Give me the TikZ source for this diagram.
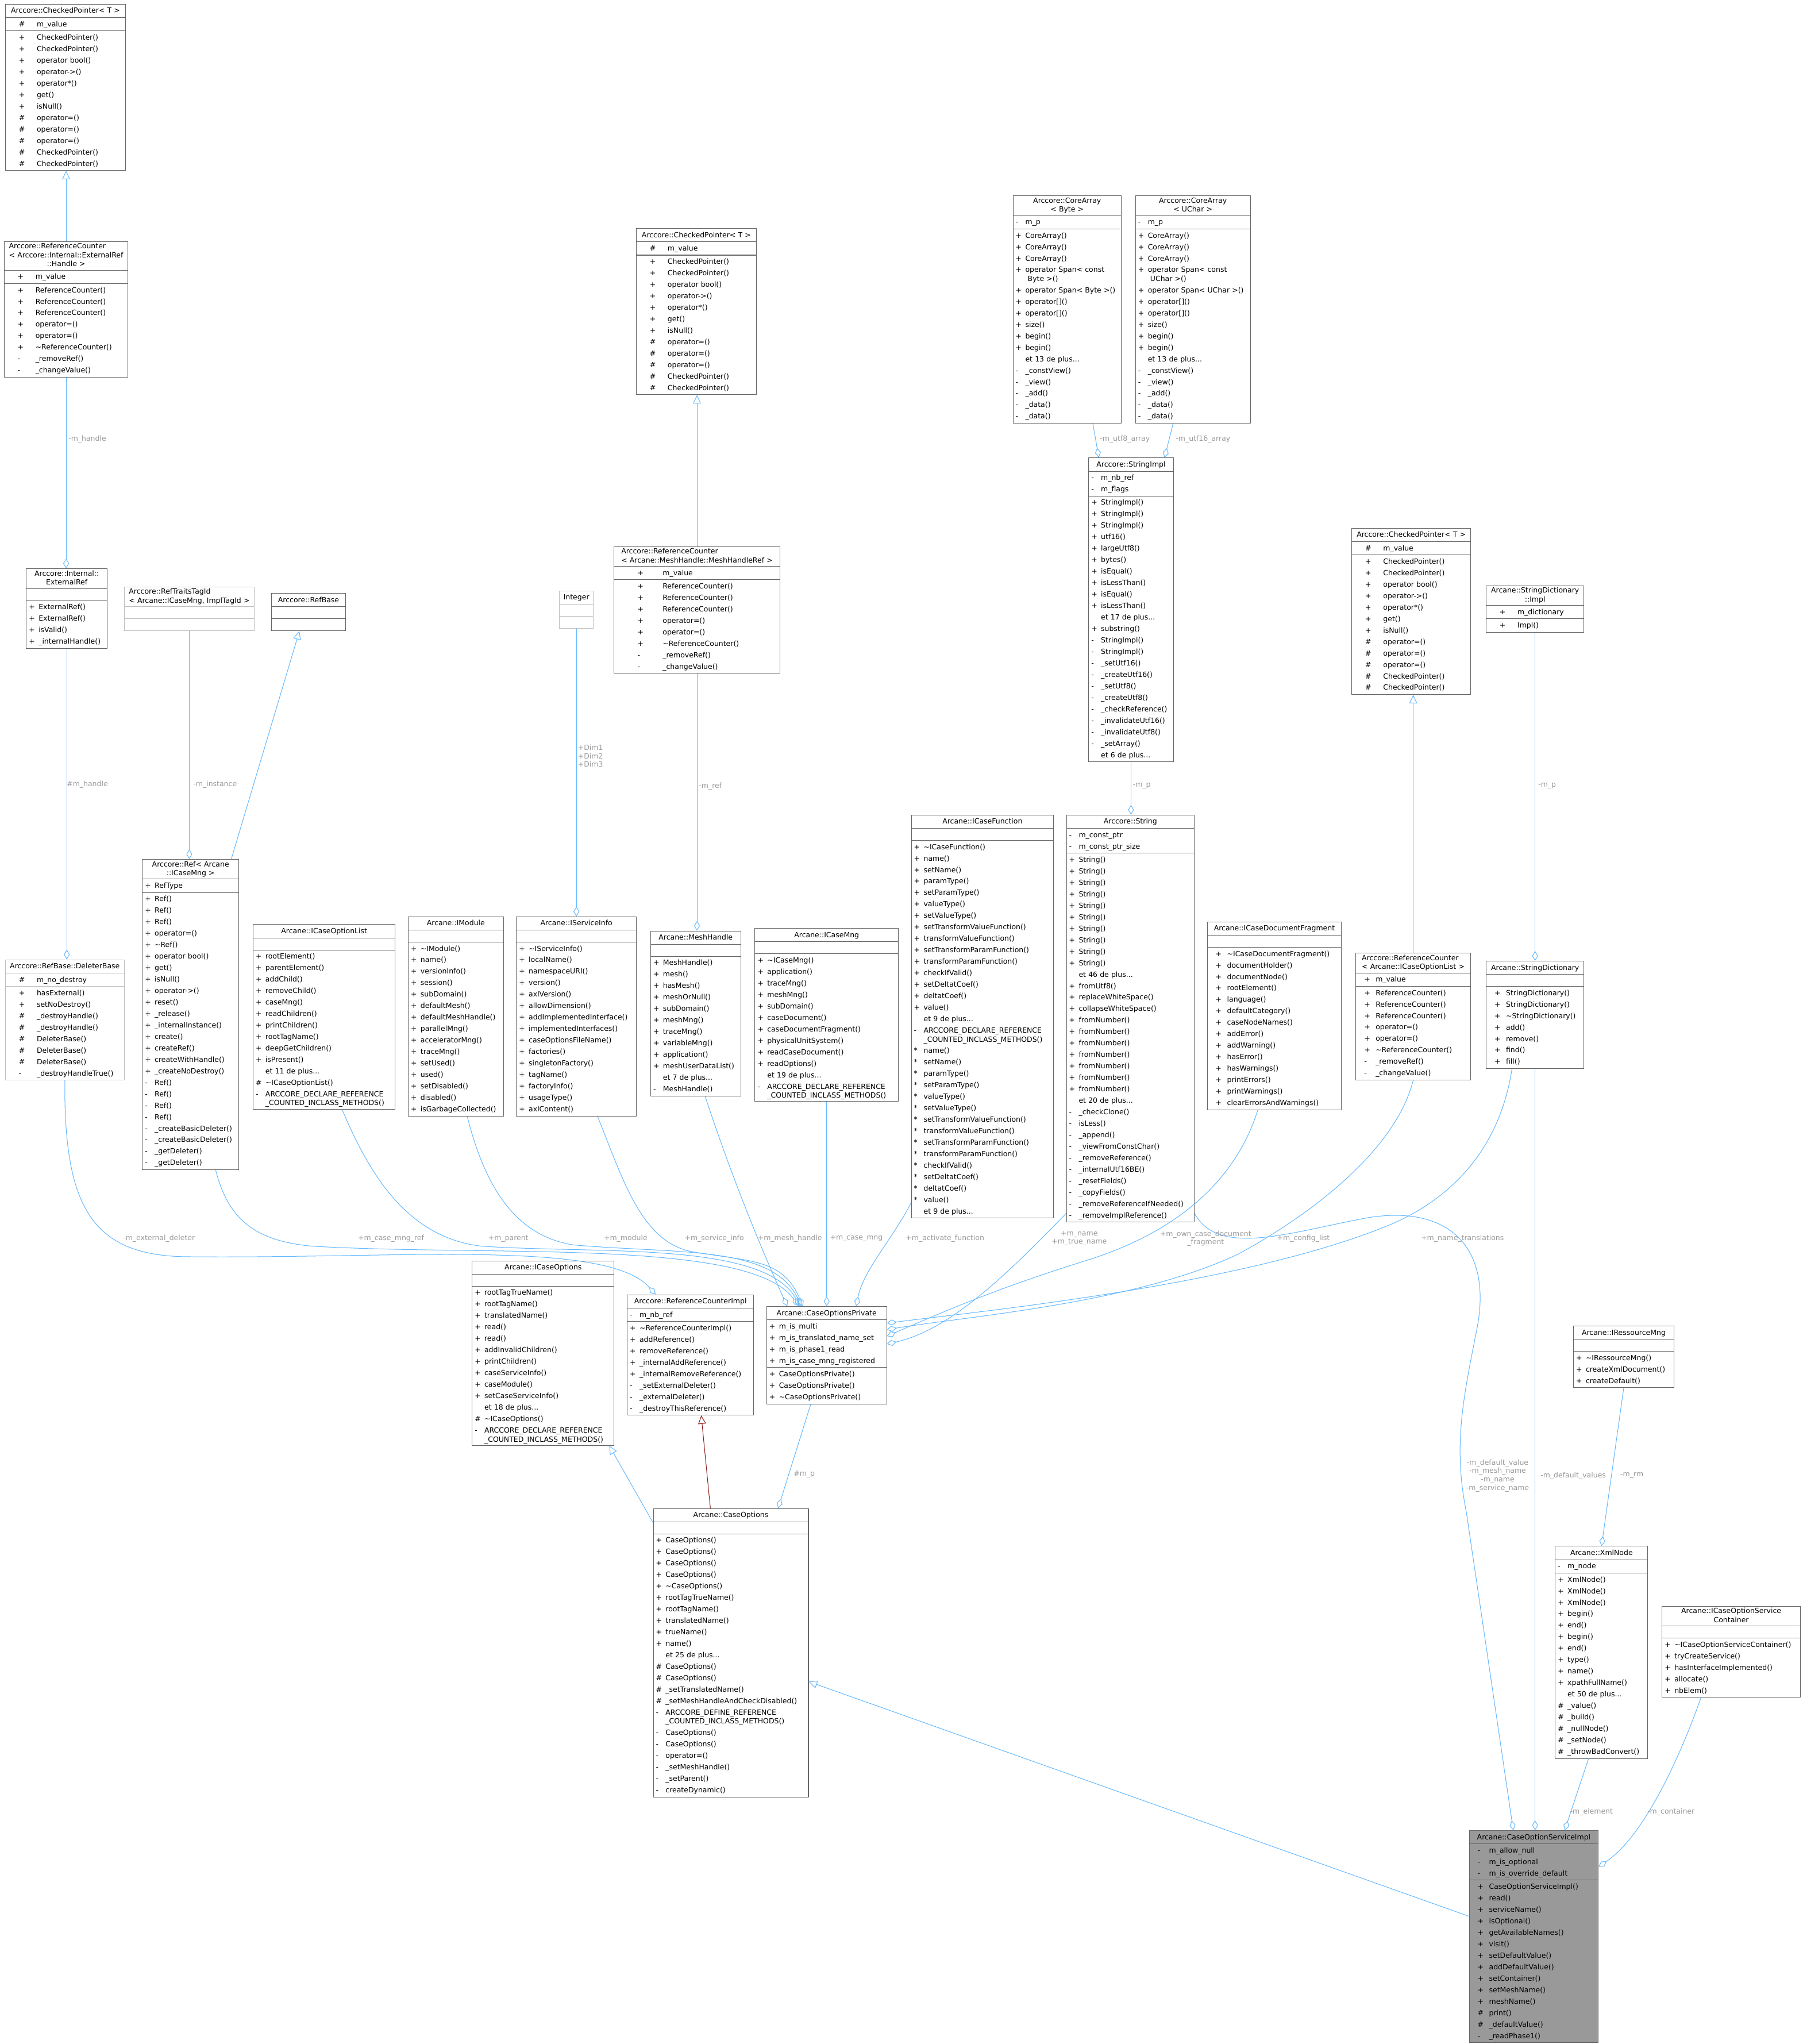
\documentclass[tikz,border=0pt]{standalone}
\usepackage{fontspec}
\setmainfont{DejaVu Sans}
\usepackage{tikz}
\usetikzlibrary{arrows.meta,shapes.multipart}

\definecolor{edgeblue}{HTML}{63B8FF}
\definecolor{boxgray}{HTML}{666666}
\definecolor{faintgray}{HTML}{BFBFBF}
\definecolor{hotgray}{HTML}{999999}
\definecolor{labelgray}{HTML}{9A9A9A}
\definecolor{privred}{HTML}{8B1A1A}

\newcommand\mfont{\fontsize{11}{17.6}\selectfont}
\newcommand\lfont{\fontsize{11}{12.8}\selectfont}
% タイトルとメンバー行
\newcommand\ttl[1]{\makebox[\hsize]{#1}}
\newcommand\mb[2]{\makebox[1.35em][l]{#1}#2\strut}
\newcommand\mm[2]{\hspace*{0.8em}\makebox[1.6em][l]{#1}#2\strut}
\newcommand\mw[2]{\hspace*{1.5em}\makebox[2.5em][l]{#1}#2\strut}
\newcommand\mx[2]{\hspace*{2.9em}\makebox[3.5em][l]{#1}#2\strut}
\newcommand\dl[2]{\begin{tabular}[t]{@{}l@{}}#1\\#2\end{tabular}}
\newcommand\tc[2]{\begin{tabular}{@{}c@{}}#1\\#2\end{tabular}}
\newcommand\tl[2]{\begin{tabular}{@{}l@{}}#1\\#2\end{tabular}}
\newcommand\emp{\rule[-4.5pt]{0pt}{15.5pt}}
\renewcommand\arraystretch{0.78}
\newcommand\cpmethods{\mw{+}{CheckedPointer()}\\\mw{+}{CheckedPointer()}\\\mw{+}{operator bool()}\\\mw{+}{operator->()}\\\mw{+}{operator*()}\\\mw{+}{get()}\\\mw{+}{isNull()}\\\mw{\#}{operator=()}\\\mw{\#}{operator=()}\\\mw{\#}{operator=()}\\\mw{\#}{CheckedPointer()}\\\mw{\#}{CheckedPointer()}}
\newcommand\rcmethods[1]{#1{+}{ReferenceCounter()}\\#1{+}{ReferenceCounter()}\\#1{+}{ReferenceCounter()}\\#1{+}{operator=()}\\#1{+}{operator=()}\\#1{+}{\textasciitilde ReferenceCounter()}\\#1{-}{\_removeRef()}\\#1{-}{\_changeValue()}}

\begin{document}
\begin{tikzpicture}[x=2pt, y=-2pt,
  cls/.style={rectangle split, rectangle split parts=3, draw=boxgray, line width=0.9pt, anchor=north west, inner xsep=4pt, inner ysep=1pt, align=left, font=\mfont},
  faint/.style={cls, draw=faintgray},
  hot/.style={cls, fill=hotgray},
  agg/.style={edgeblue, line width=0.9pt, -{Diamond[open, length=15pt, width=9pt]}},
  inh/.style={edgeblue, line width=0.9pt, -{Triangle[open, length=13pt, width=12pt]}},
  pinh/.style={inh, privred},
  lbl/.style={font=\lfont, text=labelgray, inner sep=0pt, align=center}
]
\path[use as bounding box, fill=white] (0,0) rectangle (1383,1568);

% 左の列
\node[cls, text width=176pt] (cp1) at (4,3) {\ttl{\strut Arccore::CheckedPointer< T >}
  \nodepart{two}\mw{\#}{m\_value}
  \nodepart{three}\cpmethods};
\node[cls, text width=182pt] (rc1) at (3,185) {\ttl{\begin{tabular}{@{}l@{}}Arccore::ReferenceCounter\\< Arccore::Internal::ExternalRef\\\multicolumn{1}{@{}c@{}}{::Handle >}\end{tabular}}
  \nodepart{two}\mw{+}{m\_value}
  \nodepart{three}\rcmethods\mw};
\node[cls, text width=116pt] (extref) at (20,436) {\ttl{\tc{Arccore::Internal::}{ExternalRef}}
  \nodepart{two}\emp
  \nodepart{three}\mb{+}{ExternalRef()}\\\mb{+}{ExternalRef()}\\\mb{+}{isValid()}\\\mb{+}{\_internalHandle()}};
\node[faint, text width=174pt] (delbase) at (4,736) {\ttl{\strut Arccore::RefBase::DeleterBase}
  \nodepart{two}\mw{\#}{m\_no\_destroy}
  \nodepart{three}\mw{+}{hasExternal()}\\\mw{+}{setNoDestroy()}\\\mw{\#}{\_destroyHandle()}\\\mw{\#}{\_destroyHandle()}\\\mw{\#}{DeleterBase()}\\\mw{\#}{DeleterBase()}\\\mw{\#}{DeleterBase()}\\\mw{-}{\_destroyHandleTrue()}};
\node[faint, text width=192pt] (rtt) at (95,450) {\ttl{\tl{Arccore::RefTraitsTagId}{< Arcane::ICaseMng, ImplTagId >}}
  \nodepart{two}\emp
  \nodepart{three}\emp};
\node[cls, text width=106pt] (refbase) at (208,455) {\ttl{\strut Arccore::RefBase}
  \nodepart{two}\emp
  \nodepart{three}\emp};
\node[cls, text width=140pt] (ref) at (109,659) {\ttl{\tc{Arccore::Ref< Arcane}{::ICaseMng >}}
  \nodepart{two}\mb{+}{RefType}
  \nodepart{three}\mb{+}{Ref()}\\\mb{+}{Ref()}\\\mb{+}{Ref()}\\\mb{+}{operator=()}\\\mb{+}{\textasciitilde Ref()}\\\mb{+}{operator bool()}\\\mb{+}{get()}\\\mb{+}{isNull()}\\\mb{+}{operator->()}\\\mb{+}{reset()}\\\mb{+}{\_release()}\\\mb{+}{\_internalInstance()}\\\mb{+}{create()}\\\mb{+}{createRef()}\\\mb{+}{createWithHandle()}\\\mb{+}{\_createNoDestroy()}\\\mb{-}{Ref()}\\\mb{-}{Ref()}\\\mb{-}{Ref()}\\\mb{-}{Ref()}\\\mb{-}{\_createBasicDeleter()}\\\mb{-}{\_createBasicDeleter()}\\\mb{-}{\_getDeleter()}\\\mb{-}{\_getDeleter()}};

% 中央の列
\node[cls, text width=210pt] (icol) at (194,709) {\ttl{\strut Arcane::ICaseOptionList}
  \nodepart{two}\emp
  \nodepart{three}\mb{+}{rootElement()}\\\mb{+}{parentElement()}\\\mb{+}{addChild()}\\\mb{+}{removeChild()}\\\mb{+}{caseMng()}\\\mb{+}{readChildren()}\\\mb{+}{printChildren()}\\\mb{+}{rootTagName()}\\\mb{+}{deepGetChildren()}\\\mb{+}{isPresent()}\\\mb{}{et 11 de plus...}\\\mb{\#}{\textasciitilde ICaseOptionList()}\\\mb{-}{\dl{ARCCORE\_DECLARE\_REFERENCE}{\_COUNTED\_INCLASS\_METHODS()}}};
\node[cls, text width=138pt] (imod) at (313,703) {\ttl{\strut Arcane::IModule}
  \nodepart{two}\emp
  \nodepart{three}\mb{+}{\textasciitilde IModule()}\\\mb{+}{name()}\\\mb{+}{versionInfo()}\\\mb{+}{session()}\\\mb{+}{subDomain()}\\\mb{+}{defaultMesh()}\\\mb{+}{defaultMeshHandle()}\\\mb{+}{parallelMng()}\\\mb{+}{acceleratorMng()}\\\mb{+}{traceMng()}\\\mb{+}{setUsed()}\\\mb{+}{used()}\\\mb{+}{setDisabled()}\\\mb{+}{disabled()}\\\mb{+}{isGarbageCollected()}};
\node[cls, text width=176pt] (isi) at (396,703) {\ttl{\strut Arcane::IServiceInfo}
  \nodepart{two}\emp
  \nodepart{three}\mb{+}{\textasciitilde IServiceInfo()}\\\mb{+}{localName()}\\\mb{+}{namespaceURI()}\\\mb{+}{version()}\\\mb{+}{axlVersion()}\\\mb{+}{allowDimension()}\\\mb{+}{addImplementedInterface()}\\\mb{+}{implementedInterfaces()}\\\mb{+}{caseOptionsFileName()}\\\mb{+}{factories()}\\\mb{+}{singletonFactory()}\\\mb{+}{tagName()}\\\mb{+}{factoryInfo()}\\\mb{+}{usageType()}\\\mb{+}{axlContent()}};
\node[faint, text width=44pt] (integer) at (429,453) {\ttl{\strut Integer}
  \nodepart{two}\emp
  \nodepart{three}\emp};
\node[cls, text width=176pt] (cp2) at (488,175) {\ttl{\strut Arccore::CheckedPointer< T >}
  \nodepart{two}\mw{\#}{m\_value}
  \nodepart{three}\cpmethods};
\node[cls, text width=246pt] (rc2) at (471,419) {\ttl{\tl{Arccore::ReferenceCounter}{< Arcane::MeshHandle::MeshHandleRef >}}
  \nodepart{two}\mx{+}{m\_value}
  \nodepart{three}\rcmethods\mx};
\node[cls, text width=130pt] (mh) at (499,714) {\ttl{\strut Arcane::MeshHandle}
  \nodepart{two}\emp
  \nodepart{three}\mb{+}{MeshHandle()}\\\mb{+}{mesh()}\\\mb{+}{hasMesh()}\\\mb{+}{meshOrNull()}\\\mb{+}{subDomain()}\\\mb{+}{meshMng()}\\\mb{+}{traceMng()}\\\mb{+}{variableMng()}\\\mb{+}{application()}\\\mb{+}{meshUserDataList()}\\\mb{}{et 7 de plus...}\\\mb{-}{MeshHandle()}};
\node[cls, text width=212pt] (icm) at (579,712) {\ttl{\strut Arcane::ICaseMng}
  \nodepart{two}\emp
  \nodepart{three}\mb{+}{\textasciitilde ICaseMng()}\\\mb{+}{application()}\\\mb{+}{traceMng()}\\\mb{+}{meshMng()}\\\mb{+}{subDomain()}\\\mb{+}{caseDocument()}\\\mb{+}{caseDocumentFragment()}\\\mb{+}{physicalUnitSystem()}\\\mb{+}{readCaseDocument()}\\\mb{+}{readOptions()}\\\mb{}{et 19 de plus...}\\\mb{-}{\dl{ARCCORE\_DECLARE\_REFERENCE}{\_COUNTED\_INCLASS\_METHODS()}}};
\node[cls, text width=210pt] (icf) at (699,625) {\ttl{\strut Arcane::ICaseFunction}
  \nodepart{two}\emp
  \nodepart{three}\mb{+}{\textasciitilde ICaseFunction()}\\\mb{+}{name()}\\\mb{+}{setName()}\\\mb{+}{paramType()}\\\mb{+}{setParamType()}\\\mb{+}{valueType()}\\\mb{+}{setValueType()}\\\mb{+}{setTransformValueFunction()}\\\mb{+}{transformValueFunction()}\\\mb{+}{setTransformParamFunction()}\\\mb{+}{transformParamFunction()}\\\mb{+}{checkIfValid()}\\\mb{+}{setDeltatCoef()}\\\mb{+}{deltatCoef()}\\\mb{+}{value()}\\\mb{}{et 9 de plus...}\\\mb{-}{\dl{ARCCORE\_DECLARE\_REFERENCE}{\_COUNTED\_INCLASS\_METHODS()}}\\\mb{*}{name()}\\\mb{*}{setName()}\\\mb{*}{paramType()}\\\mb{*}{setParamType()}\\\mb{*}{valueType()}\\\mb{*}{setValueType()}\\\mb{*}{setTransformValueFunction()}\\\mb{*}{transformValueFunction()}\\\mb{*}{setTransformParamFunction()}\\\mb{*}{transformParamFunction()}\\\mb{*}{checkIfValid()}\\\mb{*}{setDeltatCoef()}\\\mb{*}{deltatCoef()}\\\mb{*}{value()}\\\mb{}{et 9 de plus...}};

% 文字列まわり
\node[cls, text width=158pt] (cab) at (777,150) {\ttl{\tc{Arccore::CoreArray}{< Byte >}}
  \nodepart{two}\mb{-}{m\_p}
  \nodepart{three}\mb{+}{CoreArray()}\\\mb{+}{CoreArray()}\\\mb{+}{CoreArray()}\\\mb{+}{\dl{operator Span< const}{\ Byte >()}}\\\mb{+}{operator Span< Byte >()}\\\mb{+}{operator[]()}\\\mb{+}{operator[]()}\\\mb{+}{size()}\\\mb{+}{begin()}\\\mb{+}{begin()}\\\mb{}{et 13 de plus...}\\\mb{-}{\_constView()}\\\mb{-}{\_view()}\\\mb{-}{\_add()}\\\mb{-}{\_data()}\\\mb{-}{\_data()}};
\node[cls, text width=168pt] (cau) at (871,150) {\ttl{\tc{Arccore::CoreArray}{< UChar >}}
  \nodepart{two}\mb{-}{m\_p}
  \nodepart{three}\mb{+}{CoreArray()}\\\mb{+}{CoreArray()}\\\mb{+}{CoreArray()}\\\mb{+}{\dl{operator Span< const}{\ UChar >()}}\\\mb{+}{operator Span< UChar >()}\\\mb{+}{operator[]()}\\\mb{+}{operator[]()}\\\mb{+}{size()}\\\mb{+}{begin()}\\\mb{+}{begin()}\\\mb{}{et 13 de plus...}\\\mb{-}{\_constView()}\\\mb{-}{\_view()}\\\mb{-}{\_add()}\\\mb{-}{\_data()}\\\mb{-}{\_data()}};
\node[cls, text width=122pt] (simpl) at (835,351) {\ttl{\strut Arccore::StringImpl}
  \nodepart{two}\mb{-}{m\_nb\_ref}\\\mb{-}{m\_flags}
  \nodepart{three}\mb{+}{StringImpl()}\\\mb{+}{StringImpl()}\\\mb{+}{StringImpl()}\\\mb{+}{utf16()}\\\mb{+}{largeUtf8()}\\\mb{+}{bytes()}\\\mb{+}{isEqual()}\\\mb{+}{isLessThan()}\\\mb{+}{isEqual()}\\\mb{+}{isLessThan()}\\\mb{}{et 17 de plus...}\\\mb{+}{substring()}\\\mb{-}{StringImpl()}\\\mb{-}{StringImpl()}\\\mb{-}{\_setUtf16()}\\\mb{-}{\_createUtf16()}\\\mb{-}{\_setUtf8()}\\\mb{-}{\_createUtf8()}\\\mb{-}{\_checkReference()}\\\mb{-}{\_invalidateUtf16()}\\\mb{-}{\_invalidateUtf8()}\\\mb{-}{\_setArray()}\\\mb{}{et 6 de plus...}};
\node[cls, text width=188pt] (str) at (818,625) {\ttl{\strut Arccore::String}
  \nodepart{two}\mb{-}{m\_const\_ptr}\\\mb{-}{m\_const\_ptr\_size}
  \nodepart{three}\mb{+}{String()}\\\mb{+}{String()}\\\mb{+}{String()}\\\mb{+}{String()}\\\mb{+}{String()}\\\mb{+}{String()}\\\mb{+}{String()}\\\mb{+}{String()}\\\mb{+}{String()}\\\mb{+}{String()}\\\mb{}{et 46 de plus...}\\\mb{+}{fromUtf8()}\\\mb{+}{replaceWhiteSpace()}\\\mb{+}{collapseWhiteSpace()}\\\mb{+}{fromNumber()}\\\mb{+}{fromNumber()}\\\mb{+}{fromNumber()}\\\mb{+}{fromNumber()}\\\mb{+}{fromNumber()}\\\mb{+}{fromNumber()}\\\mb{+}{fromNumber()}\\\mb{}{et 20 de plus...}\\\mb{-}{\_checkClone()}\\\mb{-}{isLess()}\\\mb{-}{\_append()}\\\mb{-}{\_viewFromConstChar()}\\\mb{-}{\_removeReference()}\\\mb{-}{\_internalUtf16BE()}\\\mb{-}{\_resetFields()}\\\mb{-}{\_copyFields()}\\\mb{-}{\_removeReferenceIfNeeded()}\\\mb{-}{\_removeImplReference()}};

% 右の列
\node[cls, text width=198pt] (icdf) at (926,707) {\ttl{\strut Arcane::ICaseDocumentFragment}
  \nodepart{two}\emp
  \nodepart{three}\mm{+}{\textasciitilde ICaseDocumentFragment()}\\\mm{+}{documentHolder()}\\\mm{+}{documentNode()}\\\mm{+}{rootElement()}\\\mm{+}{language()}\\\mm{+}{defaultCategory()}\\\mm{+}{caseNodeNames()}\\\mm{+}{addError()}\\\mm{+}{addWarning()}\\\mm{+}{hasError()}\\\mm{+}{hasWarnings()}\\\mm{+}{printErrors()}\\\mm{+}{printWarnings()}\\\mm{+}{clearErrorsAndWarnings()}};
\node[cls, text width=174pt] (cp3) at (1037,405) {\ttl{\strut Arccore::CheckedPointer< T >}
  \nodepart{two}\mw{\#}{m\_value}
  \nodepart{three}\cpmethods};
\node[cls, text width=168pt] (rc3) at (1040,731) {\ttl{\tl{Arccore::ReferenceCounter}{< Arcane::ICaseOptionList >}}
  \nodepart{two}\mm{+}{m\_value}
  \nodepart{three}\rcmethods\mm};
\node[cls, text width=142pt] (sdi) at (1140,449) {\ttl{\tc{Arcane::StringDictionary}{::Impl}}
  \nodepart{two}\mw{+}{m\_dictionary}
  \nodepart{three}\mw{+}{Impl()}};
\node[cls, text width=142pt] (sd) at (1140,737) {\ttl{\strut Arcane::StringDictionary}
  \nodepart{two}\emp
  \nodepart{three}\mm{+}{StringDictionary()}\\\mm{+}{StringDictionary()}\\\mm{+}{\textasciitilde StringDictionary()}\\\mm{+}{add()}\\\mm{+}{remove()}\\\mm{+}{find()}\\\mm{+}{fill()}};

% 下の段
\node[cls, text width=210pt] (ico) at (362,967) {\ttl{\strut Arcane::ICaseOptions}
  \nodepart{two}\emp
  \nodepart{three}\mb{+}{rootTagTrueName()}\\\mb{+}{rootTagName()}\\\mb{+}{translatedName()}\\\mb{+}{read()}\\\mb{+}{read()}\\\mb{+}{addInvalidChildren()}\\\mb{+}{printChildren()}\\\mb{+}{caseServiceInfo()}\\\mb{+}{caseModule()}\\\mb{+}{setCaseServiceInfo()}\\\mb{}{et 18 de plus...}\\\mb{\#}{\textasciitilde ICaseOptions()}\\\mb{-}{\dl{ARCCORE\_DECLARE\_REFERENCE}{\_COUNTED\_INCLASS\_METHODS()}}};
\node[cls, text width=186pt] (rci) at (481,993) {\ttl{\strut Arccore::ReferenceCounterImpl}
  \nodepart{two}\mb{-}{m\_nb\_ref}
  \nodepart{three}\mb{+}{\textasciitilde ReferenceCounterImpl()}\\\mb{+}{addReference()}\\\mb{+}{removeReference()}\\\mb{+}{\_internalAddReference()}\\\mb{+}{\_internalRemoveReference()}\\\mb{-}{\_setExternalDeleter()}\\\mb{-}{\_externalDeleter()}\\\mb{-}{\_destroyThisReference()}};
\node[cls, text width=176pt] (cop) at (588,1002) {\ttl{\strut Arcane::CaseOptionsPrivate}
  \nodepart{two}\mb{+}{m\_is\_multi}\\\mb{+}{m\_is\_translated\_name\_set}\\\mb{+}{m\_is\_phase1\_read}\\\mb{+}{m\_is\_case\_mng\_registered}
  \nodepart{three}\mb{+}{CaseOptionsPrivate()}\\\mb{+}{CaseOptionsPrivate()}\\\mb{+}{\textasciitilde CaseOptionsPrivate()}};
\node[cls, text width=230pt] (co) at (501,1157) {\ttl{\strut Arcane::CaseOptions}
  \nodepart{two}\emp
  \nodepart{three}\mb{+}{CaseOptions()}\\\mb{+}{CaseOptions()}\\\mb{+}{CaseOptions()}\\\mb{+}{CaseOptions()}\\\mb{+}{\textasciitilde CaseOptions()}\\\mb{+}{rootTagTrueName()}\\\mb{+}{rootTagName()}\\\mb{+}{translatedName()}\\\mb{+}{trueName()}\\\mb{+}{name()}\\\mb{}{et 25 de plus...}\\\mb{\#}{CaseOptions()}\\\mb{\#}{CaseOptions()}\\\mb{\#}{\_setTranslatedName()}\\\mb{\#}{\_setMeshHandleAndCheckDisabled()}\\\mb{-}{\dl{ARCCORE\_DEFINE\_REFERENCE}{\_COUNTED\_INCLASS\_METHODS()}}\\\mb{-}{CaseOptions()}\\\mb{-}{CaseOptions()}\\\mb{-}{operator=()}\\\mb{-}{\_setMeshHandle()}\\\mb{-}{\_setParent()}\\\mb{-}{createDynamic()}};
\node[cls, text width=146pt] (irm) at (1207,1017) {\ttl{\strut Arcane::IRessourceMng}
  \nodepart{two}\emp
  \nodepart{three}\mb{+}{\textasciitilde IRessourceMng()}\\\mb{+}{createXmlDocument()}\\\mb{+}{createDefault()}};
\node[cls, text width=134pt] (xml) at (1193,1186) {\ttl{\strut Arcane::XmlNode}
  \nodepart{two}\mb{-}{m\_node}
  \nodepart{three}\mb{+}{XmlNode()}\\\mb{+}{XmlNode()}\\\mb{+}{XmlNode()}\\\mb{+}{begin()}\\\mb{+}{end()}\\\mb{+}{begin()}\\\mb{+}{end()}\\\mb{+}{type()}\\\mb{+}{name()}\\\mb{+}{xpathFullName()}\\\mb{}{et 50 de plus...}\\\mb{\#}{\_value()}\\\mb{\#}{\_build()}\\\mb{\#}{\_nullNode()}\\\mb{\#}{\_setNode()}\\\mb{\#}{\_throwBadConvert()}};
\node[cls, text width=204pt] (icosc) at (1275,1232) {\ttl{\tc{Arcane::ICaseOptionService}{Container}}
  \nodepart{two}\emp
  \nodepart{three}\mb{+}{\textasciitilde ICaseOptionServiceContainer()}\\\mb{+}{tryCreateService()}\\\mb{+}{hasInterfaceImplemented()}\\\mb{+}{allocate()}\\\mb{+}{nbElem()}};
\node[hot, text width=190pt] (cosi) at (1127,1404) {\ttl{\strut Arcane::CaseOptionServiceImpl}
  \nodepart{two}\mm{-}{m\_allow\_null}\\\mm{-}{m\_is\_optional}\\\mm{-}{m\_is\_override\_default}
  \nodepart{three}\mm{+}{CaseOptionServiceImpl()}\\\mm{+}{read()}\\\mm{+}{serviceName()}\\\mm{+}{isOptional()}\\\mm{+}{getAvailableNames()}\\\mm{+}{visit()}\\\mm{+}{setDefaultValue()}\\\mm{+}{addDefaultValue()}\\\mm{+}{setContainer()}\\\mm{+}{setMeshName()}\\\mm{+}{meshName()}\\\mm{\#}{print()}\\\mm{\#}{\_defaultValue()}\\\mm{-}{\_readPhase1()}};

% 継承
\draw[inh] (rc1.north) -- (rc1.north |- cp1.south);
\draw[inh] (rc2.north) -- (rc2.north |- cp2.south);
\draw[inh] (rc3.north) -- (rc3.north |- cp3.south);
\draw[inh] ([xshift=-12pt]ref.north east) -- ([xshift=-14pt]refbase.south);
\draw[inh] ([yshift=-22pt]co.north west) -- ([xshift=-8pt]ico.south east);
\draw[pinh] ([xshift=88pt]co.north west) -- ([xshift=114pt]rci.south west);
\draw[inh] ([yshift=-132pt]cosi.north west) -- ([yshift=-266pt]co.north east);

% 集約
\draw[agg] (rc1.south) -- (rc1.south |- extref.north);
\draw[agg] (extref.south) -- (extref.south |- delbase.north);
\draw[agg] (rtt.south) -- (rtt.south |- ref.north);
\draw[agg] (integer.south) -- (integer.south |- isi.north);
\draw[agg] (rc2.south) -- (rc2.south |- mh.north);
\draw[agg] ([xshift=-44pt]cab.south east) -- ([xshift=16pt]simpl.north west);
\draw[agg] ([xshift=58pt]cau.south west) -- ([xshift=-14pt]simpl.north east);
\draw[agg] (simpl.south) -- (simpl.south |- str.north);
\draw[agg] (sdi.south) -- (sdi.south |- sd.north);
\draw[agg] (irm.south) -- (xml.north);
\draw[agg] ([xshift=-20pt]xml.south) -- ([xshift=-52pt]cosi.north east);
\draw[agg] ([xshift=60pt]icosc.south west) .. controls (1290,1345) and (1262,1408) .. ([yshift=-56pt]cosi.north east);
\draw[agg] (sd.south) -- (sd.south |- cosi.north);
\draw[agg] ([yshift=14pt]str.south east) .. controls (935,965) and (990,945) .. (1050,934) .. controls (1115,924) and (1145,960) .. (1133,1020) .. controls (1122,1075) and (1115,1110) .. (1125,1160) -- ([xshift=68pt]cosi.north west);
\draw[agg] (delbase.south) .. controls (49,925) and (70,962) .. (140,964) .. controls (300,966) and (465,950) .. ([xshift=44pt]rci.north west);
\draw[agg] ([xshift=-36pt]ref.south east) .. controls (175,935) and (195,952) .. (240,956) .. controls (380,964) and (575,950) .. ([xshift=50pt]cop.north west);
\draw[agg] ([xshift=-82pt]icol.south east) .. controls (285,905) and (315,950) .. (370,956) .. controls (460,962) and (585,952) .. ([xshift=52pt]cop.north west);
\draw[agg] ([xshift=-56pt]imod.south east) .. controls (372,910) and (395,948) .. (440,955) .. controls (520,962) and (592,955) .. ([xshift=54pt]cop.north west);
\draw[agg] ([xshift=-60pt]isi.south east) .. controls (478,905) and (492,952) .. (530,960) .. controls (575,968) and (600,965) .. ([xshift=56pt]cop.north west);
\draw[agg] ([xshift=84pt]mh.south west) .. controls (562,905) and (585,960) .. ([xshift=32pt]cop.north west);
\draw[agg] (icm.south) -- (icm.south |- cop.north);
\draw[agg] ([yshift=24pt]icf.south west) .. controls (685,950) and (662,975) .. ([xshift=138pt]cop.north west);
\draw[agg] ([yshift=14pt]str.south west) .. controls (775,975) and (730,1020) .. ([yshift=-58pt]cop.north east);
\draw[agg] ([xshift=78pt]icdf.south west) .. controls (945,915) and (890,950) .. (830,968) .. controls (760,990) and (720,1008) .. ([yshift=-46pt]cop.north east);
\draw[agg] (rc3.south) .. controls (1070,885) and (1000,935) .. (950,962) .. controls (870,1000) and (740,1010) .. ([yshift=-36pt]cop.north east);
\draw[agg] ([xshift=40pt]sd.south west) .. controls (1150,885) and (1110,920) .. (1070,938) .. controls (960,985) and (760,1005) .. ([yshift=-26pt]cop.north east);
\draw[agg] ([xshift=68pt]cop.south west) -- ([xshift=192pt]co.north west);

% ラベル
\node[lbl] (lhandle) at (67,337) {-m\_handle};
\node[lbl] (lhandleb) at (67,602) {\#m\_handle};
\node[lbl] (linstance) at (165,602) {-m\_instance};
\node[lbl] (ldim) at (453,580) {+Dim1\\+Dim2\\+Dim3};
\node[lbl] (lref) at (545,603) {-m\_ref};
\node[lbl] (lutfa) at (863,337) {-m\_utf8\_array};
\node[lbl] (lutfb) at (923,337) {-m\_utf16\_array};
\node[lbl] (lpstr) at (876,603) {-m\_p};
\node[lbl] (lpsd) at (1187,603) {-m\_p};
\node[lbl] (ldeleter) at (122,950) {-m\_external\_deleter};
\node[lbl] (lcmref) at (300,950) {+m\_case\_mng\_ref};
\node[lbl] (lparent) at (390,950) {+m\_parent};
\node[lbl] (lmodule) at (480,950) {+m\_module};
\node[lbl] (lsvc) at (548,950) {+m\_service\_info};
\node[lbl] (lmesh) at (606,950) {+m\_mesh\_handle};
\node[lbl] (lcmng) at (657,950) {+m\_case\_mng};
\node[lbl] (lact) at (725,950) {+m\_activate\_function};
\node[lbl] (lname) at (828,950) {+m\_name\\+m\_true\_name};
\node[lbl] (lfrag) at (925,950) {+m\_own\_case\_document\\\_fragment};
\node[lbl] (lconfig) at (1000,950) {+m\_config\_list};
\node[lbl] (ltrans) at (1122,950) {+m\_name\_translations};
\node[lbl] (lmp) at (617,1131) {\#m\_p};
\node[lbl] (ldefval) at (1149,1132) {-m\_default\_value\\-m\_mesh\_name\\-m\_name\\-m\_service\_name};
\node[lbl] (ldefvals) at (1207,1132) {-m\_default\_values};
\node[lbl] (lrm) at (1252,1132) {-m\_rm};
\node[lbl] (lelem) at (1221,1390) {-m\_element};
\node[lbl] (lcont) at (1282,1390) {-m\_container};
\end{tikzpicture}
\end{document}
